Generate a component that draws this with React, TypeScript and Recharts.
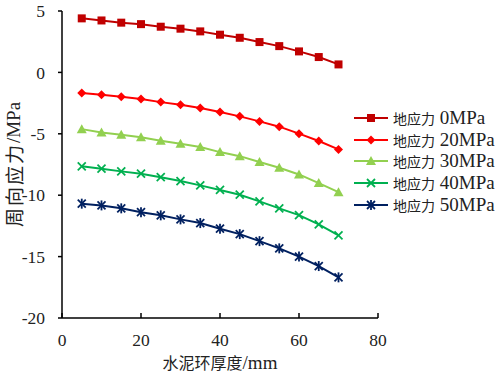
import { LineChart, Line, XAxis, YAxis, Legend } from "recharts";

const thickness = [5, 10, 15, 20, 25, 30, 35, 40, 45, 50, 55, 60, 65, 70];
const stress0 = [4.40, 4.23, 4.05, 3.93, 3.72, 3.56, 3.34, 3.07, 2.82, 2.47, 2.14, 1.71, 1.25, 0.65];
const stress20 = [-1.68, -1.82, -1.98, -2.17, -2.42, -2.63, -2.90, -3.23, -3.58, -3.99, -4.42, -4.99, -5.59, -6.27];
const stress30 = [-4.62, -4.89, -5.08, -5.29, -5.56, -5.81, -6.08, -6.49, -6.82, -7.30, -7.76, -8.31, -9.01, -9.75];
const stress40 = [-7.65, -7.84, -8.06, -8.25, -8.53, -8.85, -9.20, -9.57, -9.96, -10.50, -11.07, -11.62, -12.38, -13.27];
const stress50 = [-10.69, -10.83, -11.07, -11.38, -11.64, -11.97, -12.27, -12.73, -13.17, -13.74, -14.33, -15.00, -15.77, -16.69];

const xTicks = [0, 20, 40, 60, 80];
const yTicks = [-20, -15, -10, -5, 0, 5];

const seriesNames = ["地应力 0MPa", "地应力 20MPa", "地应力 30MPa", "地应力 40MPa", "地应力 50MPa"];
const seriesKeys = ["s0", "s20", "s30", "s40", "s50"];
const COLORS = ["#C00000", "#FF0000", "#92D050", "#00B050", "#002060"];
const SHAPES = ["square", "diamond", "triangle", "x", "star"];

const data = thickness.map((x, i) => ({
  x,
  s0: stress0[i],
  s20: stress20[i],
  s30: stress30[i],
  s40: stress40[i],
  s50: stress50[i],
}));

const SERIF = "'Liberation Serif', 'Times New Roman', Times, serif";
const CJK = "'Noto Sans CJK SC', sans-serif";
const TEXT_COLOR = "#222";

// split mixed text into CJK / latin runs so each gets its own font
function splitRuns(s: string) {
  return s.match(/[\u3400-\u9fff]+|[^\u3400-\u9fff]+/g) || [];
}
const isCjk = (s: string) => /[\u3400-\u9fff]/.test(s);

function Marker({ shape, color, cx, cy }: { shape: string; color: string; cx: number; cy: number }) {
  switch (shape) {
    case "square":
      return <rect x={cx - 4} y={cy - 4} width={8} height={8} fill={color} />;
    case "diamond":
      return <polygon points={`${cx},${cy - 4.5} ${cx + 4.5},${cy} ${cx},${cy + 4.5} ${cx - 4.5},${cy}`} fill={color} />;
    case "triangle":
      return <polygon points={`${cx},${cy - 5} ${cx + 5},${cy + 4} ${cx - 5},${cy + 4}`} fill={color} />;
    case "x":
      return (
        <g stroke={color} strokeWidth={1.8}>
          <line x1={cx - 4} y1={cy - 4} x2={cx + 4} y2={cy + 4} />
          <line x1={cx - 4} y1={cy + 4} x2={cx + 4} y2={cy - 4} />
        </g>
      );
    default:
      return (
        <g stroke={color} strokeWidth={1.8}>
          <line x1={cx - 4} y1={cy - 4} x2={cx + 4} y2={cy + 4} />
          <line x1={cx - 4} y1={cy + 4} x2={cx + 4} y2={cy - 4} />
          <line x1={cx} y1={cy - 5} x2={cx} y2={cy + 5} />
        </g>
      );
  }
}

const CustomLegend = () => (
  <div style={{ color: TEXT_COLOR }}>
    {seriesNames.map((name, i) => (
      <div key={name} style={{ display: "flex", alignItems: "center", height: 21.7 }}>
        <svg width={36} height={14} style={{ marginRight: 4, flexShrink: 0 }}>
          <line x1={1} y1={7} x2={35} y2={7} stroke={COLORS[i]} strokeWidth={2} />
          <Marker shape={SHAPES[i]} color={COLORS[i]} cx={18} cy={7} />
        </svg>
        <span style={{ whiteSpace: "pre", lineHeight: "21px" }}>
          {splitRuns(name).map((r, j) => (
            <span key={j} style={isCjk(r) ? { fontFamily: CJK, fontSize: 14 } : { fontFamily: SERIF, fontSize: 19 }}>
              {r}
            </span>
          ))}
        </span>
      </div>
    ))}
  </div>
);

const MixedText = ({ text, cjkSize, latinSize, cjkSpacing = 0, ...rest }: any) => (
  <text fill={TEXT_COLOR} {...rest}>
    {splitRuns(text).map((r, j) =>
      isCjk(r) ? (
        <tspan key={j} fontFamily={CJK} fontSize={cjkSize} letterSpacing={cjkSpacing}>{r}</tspan>
      ) : (
        <tspan key={j} fontFamily={SERIF} fontSize={latinSize}>{r}</tspan>
      )
    )}
  </text>
);

export default function App() {
  return (
    <div style={{ position: "absolute", left: 0, top: 0, background: "#fff" }}>
      <LineChart width={501} height={373} data={data} margin={{ top: 11, right: 123, bottom: 0, left: 0 }}>
        <XAxis
          dataKey="x"
          type="number"
          domain={[0, 80]}
          ticks={xTicks}
          height={55}
          stroke="#000"
          strokeWidth={1.5}
          tickSize={-5}
          tickMargin={21}
          tick={{ fill: TEXT_COLOR, fontSize: 17.5, fontFamily: SERIF }}
          label={({ viewBox }: any) => (
            <MixedText
              text="水泥环厚度/mm"
              cjkSize={16}
              latinSize={19}
              x={viewBox.x + viewBox.width / 2}
              y={369}
              textAnchor="middle"
            />
          )}
        />
        <YAxis
          type="number"
          domain={[-20, 5]}
          ticks={yTicks}
          width={62}
          stroke="#000"
          strokeWidth={1.5}
          tickSize={4}
          tickMargin={13}
          tick={{ fill: TEXT_COLOR, fontSize: 17.5, fontFamily: SERIF }}
          label={({ viewBox }: any) => {
            const cy = viewBox.y + viewBox.height / 2;
            return (
              <MixedText
                text="周向应力/MPa"
                cjkSize={19}
                latinSize={19}
                cjkSpacing={2}
                x={13}
                y={cy}
                transform={`rotate(-90 13 ${cy})`}
                textAnchor="middle"
                dominantBaseline="central"
              />
            );
          }}
        />
        <Legend
          layout="vertical"
          align="center"
          verticalAlign="middle"
          content={<CustomLegend />}
          wrapperStyle={{ position: "absolute", left: 353, top: 107, width: 148 }}
        />
        {seriesKeys.map((key, i) => (
          <Line
            key={key}
            dataKey={key}
            name={seriesNames[i]}
            stroke={COLORS[i]}
            strokeWidth={2}
            isAnimationActive={false}
            dot={(props: any) => (
              <Marker key={`${key}-${props.index}`} shape={SHAPES[i]} color={COLORS[i]} cx={props.cx} cy={props.cy} />
            )}
            activeDot={false}
          />
        ))}
      </LineChart>
    </div>
  );
}
